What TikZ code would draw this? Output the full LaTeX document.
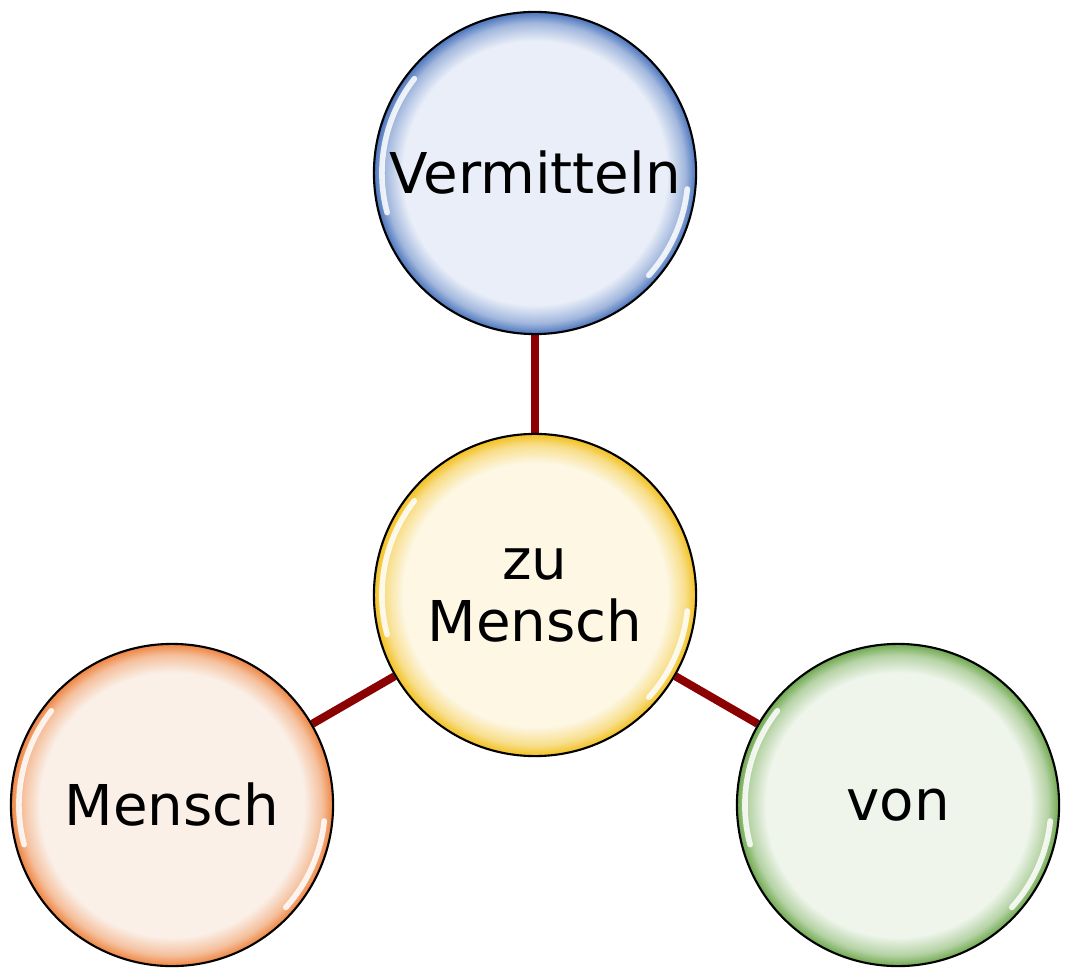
\documentclass[tikz,border=0pt]{standalone}
\usepackage{fontspec}
\setmainfont{DejaVu Sans}
\usetikzlibrary{backgrounds}
\usetikzlibrary{calc}

\colorlet{ballfill}{white}
\colorlet{ballrim}{gray}
\pgfdeclareradialshading[ballfill,ballrim]{ball}{\pgfpoint{0bp}{0bp}}{%
  color(0bp)=(ballfill); color(20.5bp)=(ballfill);
  color(23.3bp)=(ballrim!45!ballfill); color(25bp)=(ballrim); color(50bp)=(ballrim)}

\begin{document}
\begin{tikzpicture}[x=0.01cm, y=-0.01cm,
    ball/.style 2 args={circle, draw=black, line width=0.6pt, minimum size=3.22cm,
      inner sep=0pt, align=center, font=\fontsize{16}{17.5}\selectfont,
      /utils/exec={\colorlet{ballfill}{#1}\colorlet{ballrim}{#2}}, shading=ball},
    gloss/.style={white, line width=1.6pt, opacity=0.85, line cap=round},
    link/.style={draw=linkred, line width=2.3pt}]
    \definecolor{linkred}{HTML}{8B0000}
    \definecolor{bluefill}{HTML}{E9EEF8}
    \definecolor{bluerim}{HTML}{4A74BC}
    \definecolor{yellowfill}{HTML}{FDF7E4}
    \definecolor{yellowrim}{HTML}{F2C01E}
    \definecolor{orangefill}{HTML}{FAF0E8}
    \definecolor{orangerim}{HTML}{EE8440}
    \definecolor{greenfill}{HTML}{EFF5EB}
    \definecolor{greenrim}{HTML}{6EA84E}

    \useasboundingbox (0,0) rectangle (1071,980);

    \node[ball={yellowfill}{yellowrim}] (zu) at (535,595) {zu\\Mensch};
    \node[ball={bluefill}{bluerim}] (verm) at (535,173) {Vermitteln};
    \node[ball={orangefill}{orangerim}] (mensch) at (172,805) {Mensch};
    \node[ball={greenfill}{greenrim}] (von) at (898,805) {von};

    % glossy highlights
    \foreach \n in {zu, verm, mensch, von} {
        \draw[gloss] ($(\n.center)+(142:1.53cm)$) arc (142:195:1.53cm);
        \draw[gloss] ($(\n.center)+(-6:1.53cm)$) arc (-6:-42:1.53cm);
    }

    \begin{scope}[on background layer]
        \draw[link] (zu) -- (verm);
        \draw[link] (zu) -- (mensch);
        \draw[link] (zu) -- (von);
    \end{scope}
\end{tikzpicture}
\end{document}
